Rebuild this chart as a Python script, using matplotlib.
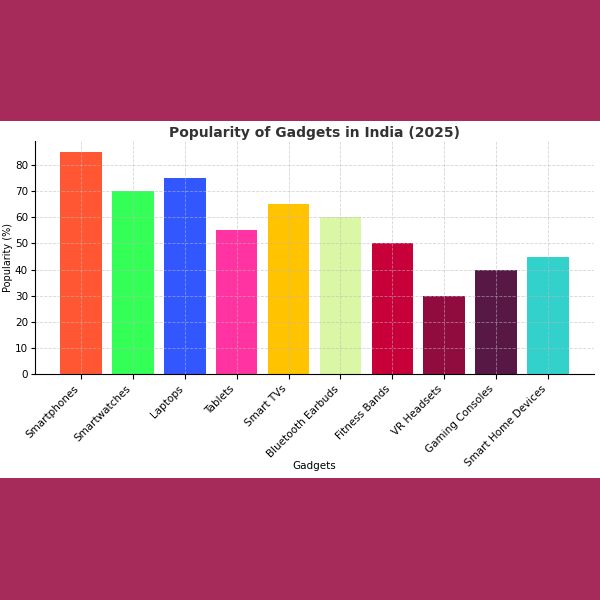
import matplotlib
matplotlib.use("Agg")
import matplotlib.pyplot as plt
from matplotlib.patches import Rectangle

gadgets = ["Smartphones", "Smartwatches", "Laptops", "Tablets", "Smart TVs",
           "Bluetooth Earbuds", "Fitness Bands", "VR Headsets", "Gaming Consoles",
           "Smart Home Devices"]
popularity = [85, 70, 75, 55, 65, 60, 50, 30, 40, 45]
colors = ["#FF5733", "#33FF57", "#3357FF", "#FF33A1", "#FFC300",
          "#DAF7A6", "#C70039", "#900C3F", "#581845", "#33D1CC"]

fig = plt.figure(figsize=(6, 6), dpi=100, facecolor="#A62B5A")
bg = fig.add_axes([0, 1 - 478/600, 1, (478-121)/600], zorder=-1)
bg.set_axis_off()
bg.add_patch(Rectangle((0, 0), 1, 1, transform=bg.transAxes, facecolor="white", edgecolor="none"))

ax = fig.add_axes([35/600, 1 - 374/600, (594-35)/600, (374-141)/600])
ax.set_facecolor("white")
ax.bar(gadgets, popularity, color=colors, width=0.8)
ax.set_title("Popularity of Gadgets in India (2025)", fontsize=10, fontweight="bold",
             color="#333333", pad=3)
ax.set_xlabel("Gadgets", fontsize=7.5)
ax.set_ylabel("Popularity (%)", fontsize=7)
ax.yaxis.set_label_coords(-0.039, 0.5)
ax.xaxis.set_label_coords(0.5, -0.375)
ax.tick_params(axis="both", labelsize=7.5)
ax.tick_params(axis="y", pad=2, length=3)
plt.setp(ax.get_xticklabels(), rotation=45, ha="right")
ax.grid(True, linestyle="--", color="#bbbbbb", alpha=0.6, linewidth=0.6)
ax.spines["top"].set_visible(False)
ax.spines["right"].set_visible(False)
fig.savefig("out.png", dpi=100, facecolor=fig.get_facecolor())
